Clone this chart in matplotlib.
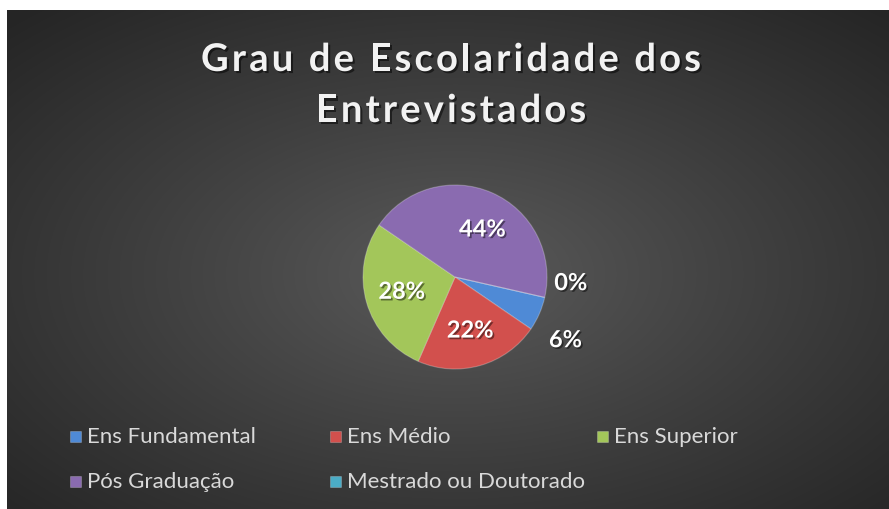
import numpy as np
import matplotlib
matplotlib.use("Agg")
import matplotlib.pyplot as plt
import matplotlib.patheffects as pe
from matplotlib.font_manager import FontProperties, findfont
from matplotlib.ft2font import FT2Font
from matplotlib.patches import Rectangle

# ---- data ----
title_lines = ["Grau de Escolaridade dos", "Entrevistados"]
categories = ["Ens Fundamental", "Ens Médio", "Ens Superior", "Pós Graduação", "Mestrado ou Doutorado"]
values = [6, 22, 28, 44, 0]
colors = ["#4f8ad6", "#d2504d", "#a3c65a", "#8a6bb0", "#4bacc6"]

W, H, DPI = 889, 510, 100
fig = plt.figure(figsize=(W / DPI, H / DPI), dpi=DPI, facecolor="white")

# ---- background radial gradient ----
bx0, by0 = 7, 11  # px from left/top
bg = fig.add_axes([bx0 / W, 0, (W - bx0) / W, (H - by0) / H])
bg.set_axis_off()
gw, gh = W - bx0, H - by0
yy, xx = np.mgrid[0:gh, 0:gw]
cx, cy = 455 - bx0, 275 - by0
d = np.sqrt(((xx - cx) / gw) ** 2 + ((yy - cy) / gh) ** 2)
v = 92 - (92 - 37) * np.clip(d / 0.72, 0, 1) ** 0.9
img = np.dstack([v, v, v]) / 255.0
bg.imshow(img, aspect="auto", interpolation="bilinear")

# ---- pie ----
R = 92
pcx, pcy = 455, 278
side = 3 * R
ax = fig.add_axes([(pcx - side / 2) / W, 1 - (pcy + side / 2) / H, side / W, side / H])
ax.set_axis_off()
ax.patch.set_alpha(0)

start = -12.8
wedges, _ = ax.pie(values, colors=colors, startangle=start, counterclock=False,
                   radius=1.0, wedgeprops=dict(edgecolor=(1, 1, 1, 0.25), linewidth=0.8))
ax.set_xlim(-1.5, 1.5)
ax.set_ylim(-1.5, 1.5)
ax.set_aspect("equal")

shadow = [pe.SimplePatchShadow(offset=(1.2, -1.2), shadow_rgbFace="black", alpha=0.45), pe.Normal()]
total = sum(values)
# label placement: (distance, angle offset)
label_pos = {0: (1.38, -6.0), 1: (0.60, 0), 2: (0.60, -1.0), 3: (0.60, -6.0), 4: (1.26, 10.0)}
for i, w in enumerate(wedges):
    mid = (w.theta1 + w.theta2) / 2.0
    dist, off = label_pos[i]
    a = np.deg2rad(mid + off)
    ax.text(dist * np.cos(a), dist * np.sin(a), f"{round(100 * values[i] / total)}%",
            ha="center", va="center", color="white", fontsize=17, fontweight="bold",
            family="Lato", path_effects=shadow)

# ---- title with letter spacing ----
tprop = FontProperties(family="Lato", weight="bold", size=27.5)
font = FT2Font(findfont(tprop))
font.set_size(27.5, DPI)

def advances(s):
    out = []
    for c in s:
        g = font.load_char(ord(c))
        out.append(g.linearHoriAdvance / 65536.0)
    return out

adv1 = advances(title_lines[0])
spacing = (500 - sum(adv1)) / (len(title_lines[0]) - 1)
baselines = [72, 123]
tshadow = [pe.SimplePatchShadow(offset=(1.5, -1.5), shadow_rgbFace="black", alpha=0.5), pe.Normal()]
for line, bl in zip(title_lines, baselines):
    adv = advances(line)
    tw = sum(adv) + spacing * (len(line) - 1)
    x = 451 - tw / 2
    for c, a in zip(line, adv):
        if c != " ":
            fig.text(x / W, 1 - bl / H, c, fontproperties=tprop, color="#f2f2f2",
                     ha="left", va="baseline", path_effects=tshadow)
        x += a + spacing

# ---- legend (row-major grid) ----
col_x = [70, 330, 597]
row_y = [437, 482]
for i, (lab, col) in enumerate(zip(categories, colors)):
    r, c = divmod(i, 3)
    x, y = col_x[c], row_y[r]
    fig.patches.append(Rectangle((x / W, 1 - (y + 5.5) / H), 11 / W, 11 / H,
                                 transform=fig.transFigure, facecolor=col,
                                 edgecolor=(1, 1, 1, 0.3), linewidth=0.5))
    fig.text((x + 17) / W, 1 - y / H, lab, color="#d9d9d9", fontsize=16, family="Lato",
             ha="left", va="center")

fig.savefig("out.png", dpi=DPI, facecolor="white")
